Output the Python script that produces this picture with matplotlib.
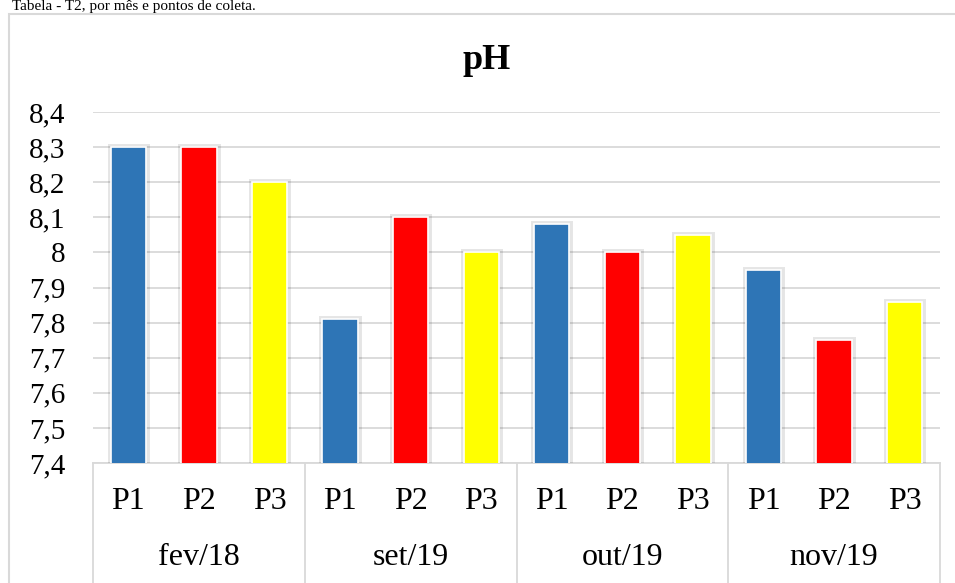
import numpy as np
import matplotlib
matplotlib.use("Agg")
import matplotlib.pyplot as plt
import matplotlib.patheffects as pe
from matplotlib.patches import Rectangle
from matplotlib.ticker import FuncFormatter

# Dados do gráfico (pH por mês e ponto de coleta).
months = ["fev/18", "set/19", "out/19", "nov/19"]
points = ["P1", "P2", "P3"]
ph_P1 = [8.30, 7.81, 8.08, 7.95]
ph_P2 = [8.30, 8.10, 8.00, 7.75]
ph_P3 = [8.20, 8.00, 8.05, 7.86]
point_colors = ["#2E75B6", "#FF0000", "#FFFF00"]

plt.rcParams['font.family'] = ['Liberation Serif', 'DejaVu Serif']

fig = plt.figure(figsize=(9.55, 5.83), dpi=100)
ax = fig.add_axes([93/955, 120/583, (940-93)/955, (463-112)/583])

# Monta as posições: cada mês tem três barras (P1, P2, P3).
series = [ph_P1, ph_P2, ph_P3]
nP = len(points)
for j, (vals, col) in enumerate(zip(series, point_colors)):
  xpos = np.arange(len(months))*nP + j
  ax.bar(xpos, vals, width=0.5, color=col, edgecolor='white', linewidth=1.2,
         zorder=3,
         path_effects=[pe.Stroke(linewidth=5, foreground='#000000', alpha=0.10),
                       pe.Normal()])

ymin, ymax = 7.4, 8.4
ax.set_ylim(ymin, ymax)
ax.set_xlim(-0.5, len(months)*nP - 0.5)
ax.set_yticks(np.round(np.arange(ymin, ymax + 0.01, 0.1), 1))
ax.yaxis.set_major_formatter(FuncFormatter(lambda v, p: ("%g" % round(v, 1)).replace('.', ',')))
ax.tick_params(axis='y', length=0, pad=20, labelsize=21)
ax.set_xticks([])
ax.grid(axis='y', color='#D9D9D9', linewidth=1.3, zorder=0)
for s in ['left', 'right', 'top']:
  ax.spines[s].set_visible(False)
ax.spines['bottom'].set_color('#D9D9D9')
ax.spines['bottom'].set_linewidth(1.3)

# Rótulos de categorias em dois níveis (ponto e mês).
trans = ax.get_xaxis_transform()
for i, m in enumerate(months):
  for j, p in enumerate(points):
    ax.text(i*nP + j, -0.111, p, transform=trans, ha='center', va='center',
            fontsize=23, clip_on=False)
  ax.text(i*nP + 1, -0.27, m, transform=trans, ha='center', va='center',
          fontsize=23, clip_on=False)
for k in range(len(months) + 1):
  ax.plot([k*nP - 0.5, k*nP - 0.5], [0, -0.35], transform=trans, color='#D9D9D9',
          linewidth=1.3, clip_on=False)

# Título e moldura do gráfico.
fig.text(487/955, 1 - 69/583, "pH", ha='center', va='baseline', fontsize=26,
         fontweight='bold')
fig.patches.append(Rectangle((9/955, -0.05), 1.2, 1 - 14/583 + 0.05,
                             transform=fig.transFigure, fill=False,
                             edgecolor='#D9D9D9', linewidth=1.5))
fig.text(12/955, 1 - 10/583, "Tabela - T2, por mês e pontos de coleta.",
         ha='left', va='baseline', fontsize=11)

fig.savefig("out.png", dpi=100)
